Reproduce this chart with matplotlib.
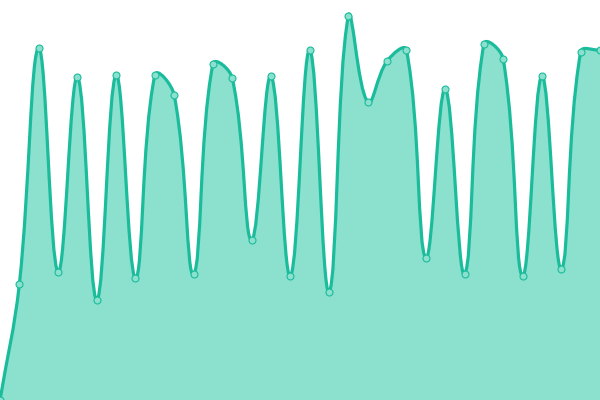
import numpy as np
import matplotlib
matplotlib.use("Agg")
import matplotlib.pyplot as plt
from matplotlib.path import Path
import matplotlib.patches as patches

values = [0, 116, 352, 128, 323, 100, 325, 122, 325, 305, 126, 336, 322, 160,
          324, 124, 350, 108, 384, 298, 339, 350, 142, 311, 126, 356, 341, 124,
          324, 131, 348, 350]
x = np.arange(len(values))
y = np.array(values, dtype=float)

line_color = "#1abc9c"
fill_color = "#8be0ce"
tension = 0.4

fig = plt.figure(figsize=(6, 4), dpi=100)
ax = fig.add_axes([0, 0, 1, 1])
ax.set_xlim(0, len(values) - 1)
ax.set_ylim(0, 400)
ax.axis("off")

# spline control points, computed in pixel space (chart.js style)
pts = ax.transData.transform(np.column_stack([x, y]))
n = len(pts)
cp_prev = pts.copy()
cp_next = pts.copy()
for i in range(n):
    prev = pts[max(i - 1, 0)]
    cur = pts[i]
    nxt = pts[min(i + 1, n - 1)]
    d01 = np.hypot(*(cur - prev))
    d12 = np.hypot(*(nxt - cur))
    tot = d01 + d12
    s01 = d01 / tot if tot else 0
    s12 = d12 / tot if tot else 0
    cp_prev[i] = cur - tension * s01 * (nxt - prev)
    cp_next[i] = cur + tension * s12 * (nxt - prev)

inv = ax.transData.inverted()
cp_prev = inv.transform(cp_prev)
cp_next = inv.transform(cp_next)
cp_prev[:, 1] = np.clip(cp_prev[:, 1], 0, 400)
cp_next[:, 1] = np.clip(cp_next[:, 1], 0, 400)

verts = [(x[0], y[0])]
codes = [Path.MOVETO]
for i in range(n - 1):
    verts += [tuple(cp_next[i]), tuple(cp_prev[i + 1]), (x[i + 1], y[i + 1])]
    codes += [Path.CURVE4] * 3

fill_verts = verts + [(x[-1], 0), (x[0], 0), (x[0], y[0])]
fill_codes = codes + [Path.LINETO, Path.LINETO, Path.CLOSEPOLY]
ax.add_patch(patches.PathPatch(Path(fill_verts, fill_codes), facecolor=fill_color,
                               edgecolor="none"))
ax.add_patch(patches.PathPatch(Path(verts, codes), facecolor="none",
                               edgecolor=line_color, linewidth=2.3, capstyle="round"))
ax.plot(x, y, linestyle="none", marker="o", markersize=5, markerfacecolor=fill_color,
        markeredgecolor=line_color, markeredgewidth=0.8, clip_on=False)

fig.savefig("out.png", dpi=100)
